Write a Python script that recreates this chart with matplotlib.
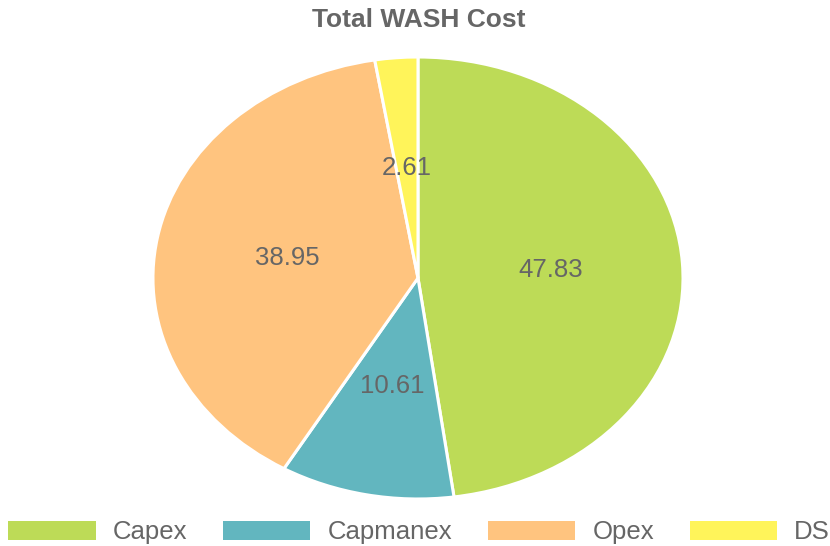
import matplotlib
matplotlib.use("Agg")
import matplotlib.pyplot as plt
from matplotlib.patches import Patch

categories = ["Capex", "Capmanex", "Opex", "DS"]
values = [47.83, 10.61, 38.95, 2.61]
colors = ["#bddb57", "#62b6bf", "#ffc47f", "#fff45a"]
title = "Total WASH Cost"

plt.rcParams["font.family"] = ["Liberation Sans", "DejaVu Sans"]
text_grey = "#666666"

fig = plt.figure(figsize=(8.30, 5.46), dpi=100)
# axes stretched horizontally so the pie comes out as an ellipse, as in the original
ax = fig.add_axes([0.1843, 0.0861, 0.6386, 0.8095])

wedges, texts = ax.pie(values, labels=[f"{v:.2f}" for v in values], colors=colors,
                       startangle=90, counterclock=False, labeldistance=0.5,
                       wedgeprops=dict(edgecolor="white", linewidth=2.2),
                       textprops=dict(fontsize=18.5, color=text_grey))
for t in texts:
    t.set_ha("center")
    t.set_va("center")

ax.set_aspect("auto")
ax.set_xlim(-1, 1)
ax.set_ylim(-1, 1)
ax.axis("off")

fig.text(0.505, 0.963, title, ha="center", va="center", fontsize=19,
         fontweight="bold", color=text_grey)

handles = [Patch(facecolor=c, edgecolor="none") for c in colors]
fig.legend(handles, categories, loc="lower center", bbox_to_anchor=(0.505, 0.003),
           ncol=4, frameon=False, fontsize=18.5, handlelength=3.4, handleheight=0.8,
           handletextpad=0.66, columnspacing=1.4, borderpad=0, borderaxespad=0,
           labelcolor=text_grey)

fig.savefig("out.png", dpi=100)
